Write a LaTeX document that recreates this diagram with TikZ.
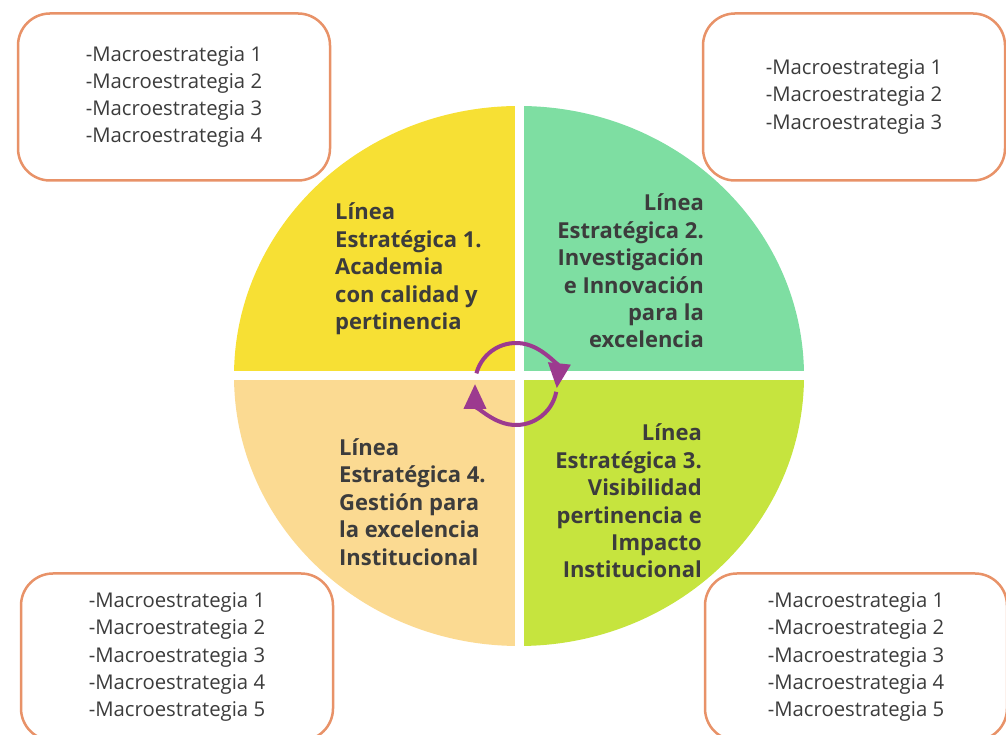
\documentclass[tikz,border=0pt]{standalone}
\usepackage{fontspec}
\setmainfont{Open Sans}
\usetikzlibrary{arrows.meta}

\definecolor{qyellow}{RGB}{247,224,52}
\definecolor{qgreen}{RGB}{126,222,162}
\definecolor{qpeach}{RGB}{251,218,146}
\definecolor{qlime}{RGB}{198,228,62}
\definecolor{boxline}{RGB}{232,146,104}
\definecolor{txtgray}{RGB}{60,60,60}
\definecolor{cyclepurple}{RGB}{156,58,143}

\begin{document}
\begin{tikzpicture}[x=1pt, y=1pt,
    macrobox/.style={draw=boxline, line width=2.5pt, fill=white, rounded corners=32pt,
      minimum width=#1, minimum height=167pt, align=left, text=txtgray,
      font=\fontsize{20.3}{27.2}\selectfont},
    linetext/.style={inner sep=0pt, text=txtgray, font=\fontsize{22}{27.4}\selectfont\bfseries},
    cycle/.style={draw=cyclepurple, line width=4pt, -{Triangle[length=25pt, width=22pt]}}
  ]

    \useasboundingbox (0,0) rectangle (1006,735);
    \clip (0,0) rectangle (1006,735);

    \coordinate (o) at (519,359);

    % quadrants
    \begin{scope}
      \clip (o) ellipse [x radius=285, y radius=270];
      \fill[qyellow] ([shift={(-4.5,4.5)}]o) rectangle ++(-300,300);
      \fill[qgreen] ([shift={(4.5,4.5)}]o) rectangle ++(300,300);
      \fill[qlime] ([shift={(4.5,-4.5)}]o) rectangle ++(300,-300);
      \fill[qpeach] ([shift={(-4.5,-4.5)}]o) rectangle ++(-300,-300);
    \end{scope}

    \node[linetext, anchor=west, align=left] (l1) at (335,466) {Línea\\Estratégica 1.\\Academia\\con calidad y\\pertinencia};
    \node[linetext, anchor=east, align=right] (l2) at (704,464) {Línea\\Estratégica 2.\\Investigación\\e Innovación\\para la\\excelencia};
    \node[linetext, anchor=east, align=right] (l3) at (702,234) {Línea\\Estratégica 3.\\Visibilidad\\pertinencia e\\Impacto\\Institucional};
    \node[linetext, anchor=west, align=left] (l4) at (339,233) {Línea\\Estratégica 4.\\Gestión para\\la excelencia\\Institucional};

    % cycle arrows
    \coordinate (c) at (516,351);
    \draw[cycle] (c) ++(165:41) arc (165:-6:41);
    \draw[cycle] (c) ++(-11:41) arc (-11:-180:41);

    % macro strategy boxes
    \node[macrobox=312pt] (m1) at (174,638) {-Macroestrategia 1\\-Macroestrategia 2\\-Macroestrategia 3\\-Macroestrategia 4};
    \node[macrobox=302pt] (m2) at (854,638) {-Macroestrategia 1\\-Macroestrategia 2\\-Macroestrategia 3};
    \node[macrobox=302pt] (m3) at (856,78) {-Macroestrategia 1\\-Macroestrategia 2\\-Macroestrategia 3\\-Macroestrategia 4\\-Macroestrategia 5};
    \node[macrobox=312pt] (m4) at (177,78) {-Macroestrategia 1\\-Macroestrategia 2\\-Macroestrategia 3\\-Macroestrategia 4\\-Macroestrategia 5};

  \end{tikzpicture}
\end{document}
